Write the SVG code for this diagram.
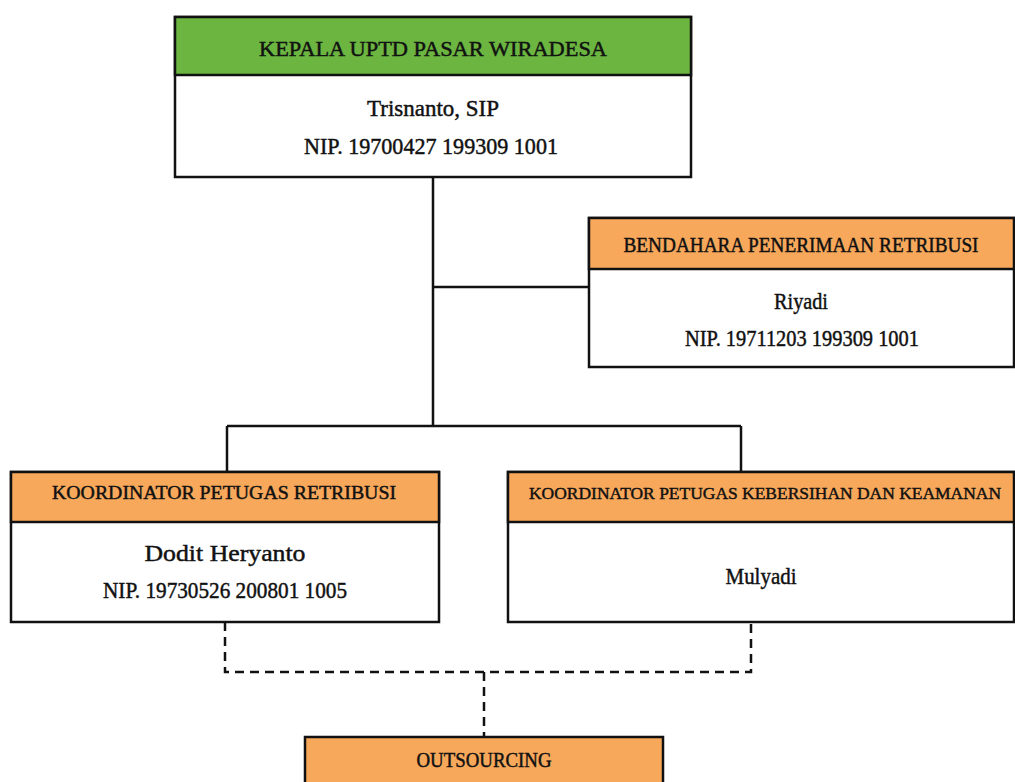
<svg xmlns="http://www.w3.org/2000/svg" width="1015" height="782" viewBox="0 0 1015 782">
<style>
.box{fill:#ffffff;stroke:#111;stroke-width:2.5}
.hg{fill:#6bb540;stroke:#111;stroke-width:2.5}
.ho{fill:#f8a85b;stroke:#111;stroke-width:2.5}
.t{font-family:"Liberation Serif","DejaVu Serif",serif;fill:#111;stroke:#111;stroke-width:0.45;text-anchor:middle}
.n{font-size:23px}
.ln{fill:none;stroke:#111;stroke-width:2.5}
.dash{fill:none;stroke:#111;stroke-width:2.5;stroke-dasharray:9 6}
</style>
<rect width="1015" height="782" fill="#ffffff"/>
<g id="connectors">
<path class="ln" d="M433 177 V426 M433 287 H589 M227 426 H741 M227 426 V472 M741 426 V472"/>
<path class="dash" d="M225 622 V672 H751 V622 M484 672 V737"/>
</g>
<g id="kepala">
<rect class="box" x="175" y="17" width="516" height="160"/>
<rect class="hg" x="175" y="17" width="516" height="58"/>
<text class="t" font-size="21" x="433" y="56" textLength="348" lengthAdjust="spacingAndGlyphs">KEPALA UPTD PASAR WIRADESA</text>
<text class="t n" x="433" y="116" textLength="132" lengthAdjust="spacingAndGlyphs">Trisnanto, SIP</text>
<text class="t n" x="431" y="154" textLength="254" lengthAdjust="spacingAndGlyphs">NIP. 19700427 199309 1001</text>
</g>
<g id="bendahara">
<rect class="box" x="589" y="218" width="425" height="149"/>
<rect class="ho" x="589" y="218" width="425" height="51"/>
<text class="t" font-size="20" x="801" y="252" textLength="355" lengthAdjust="spacingAndGlyphs">BENDAHARA PENERIMAAN RETRIBUSI</text>
<text class="t n" x="801" y="309" textLength="54" lengthAdjust="spacingAndGlyphs">Riyadi</text>
<text class="t n" x="802" y="346" textLength="234" lengthAdjust="spacingAndGlyphs">NIP. 19711203 199309 1001</text>
</g>
<g id="koordinator-retribusi">
<rect class="box" x="11" y="472" width="428" height="150"/>
<rect class="ho" x="11" y="472" width="428" height="50"/>
<text class="t" font-size="19" x="224" y="499" textLength="344" lengthAdjust="spacingAndGlyphs">KOORDINATOR PETUGAS RETRIBUSI</text>
<text class="t n" x="225" y="561" textLength="161" lengthAdjust="spacingAndGlyphs">Dodit Heryanto</text>
<text class="t n" x="225" y="598" textLength="244" lengthAdjust="spacingAndGlyphs">NIP. 19730526 200801 1005</text>
</g>
<g id="koordinator-kebersihan">
<rect class="box" x="508" y="472" width="506" height="150"/>
<rect class="ho" x="508" y="472" width="506" height="50"/>
<text class="t" font-size="17" x="765" y="499" textLength="472" lengthAdjust="spacingAndGlyphs">KOORDINATOR PETUGAS KEBERSIHAN DAN KEAMANAN</text>
<text class="t n" x="761" y="584" textLength="71" lengthAdjust="spacingAndGlyphs">Mulyadi</text>
</g>
<g id="outsourcing">
<rect class="ho" x="305" y="737" width="358" height="60"/>
<text class="t" font-size="20" x="484" y="767" textLength="135" lengthAdjust="spacingAndGlyphs">OUTSOURCING</text>
</g>
</svg>
